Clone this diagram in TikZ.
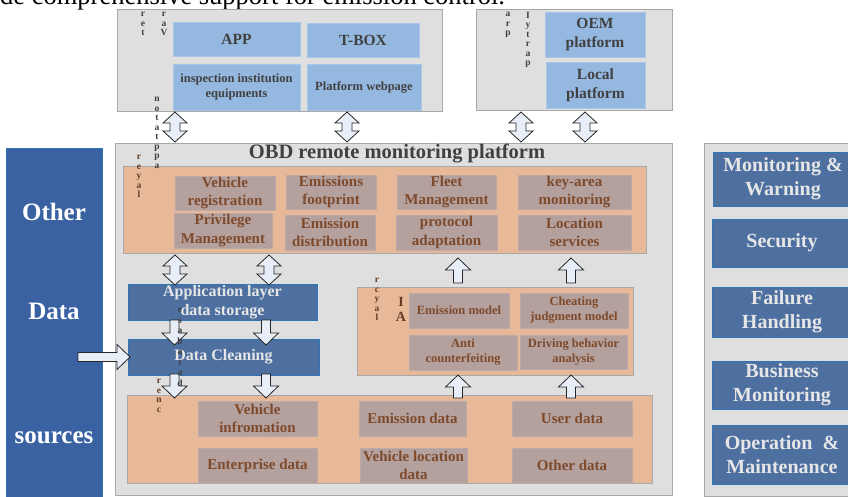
\documentclass[tikz,border=0pt]{standalone}
\usepackage{fontspec}
\setmainfont{Liberation Serif}
\definecolor{bggray}{HTML}{DFDFDF}
\definecolor{bdgray}{HTML}{A8A8A8}
\definecolor{lblue}{HTML}{95B8E0}
\definecolor{dtext}{HTML}{404040}
\definecolor{orng}{HTML}{E8B998}
\definecolor{mauve}{HTML}{B4A09D}
\definecolor{brn}{HTML}{7E4A2C}
\definecolor{dblue}{HTML}{4E70A0}
\definecolor{dbord}{HTML}{2E75B6}
\definecolor{wtext}{HTML}{E6E6E6}
\definecolor{lftblue}{HTML}{3A62A3}
\definecolor{arrfill}{HTML}{E8EEF7}
\newcommand\udarr[3]{\draw[arrstyle] (#1,#2) -- (#1+12,#2+11) -- (#1+5,#2+11) -- (#1+5,#3-11) -- (#1+12,#3-11) -- (#1,#3) -- (#1-12,#3-11) -- (#1-5,#3-11) -- (#1-5,#2+11) -- (#1-12,#2+11) -- cycle;}
\newcommand\uparr[3]{\draw[arrstyle] (#1,#2) -- (#1+12.5,#2+12) -- (#1+4.5,#2+12) -- (#1+4.5,#3) -- (#1-4.5,#3) -- (#1-4.5,#2+12) -- (#1-12.5,#2+12) -- cycle;}
\newcommand\dnarr[3]{\draw[arrstyle] (#1,#3) -- (#1+12.5,#3-12) -- (#1+4.5,#3-12) -- (#1+4.5,#2) -- (#1-4.5,#2) -- (#1-4.5,#3-12) -- (#1-12.5,#3-12) -- cycle;}
\newcommand\rtarr[3]{\draw[arrstyle] (#3,#1) -- (#3-13,#1-12.5) -- (#3-13,#1-4.5) -- (#2,#1-4.5) -- (#2,#1+4.5) -- (#3-13,#1+4.5) -- (#3-13,#1+12.5) -- cycle;}
\begin{document}
\begin{tikzpicture}[x=1pt,y=-1pt,
  gbox/.style={draw=bdgray,fill=bggray,line width=0.9pt,inner sep=0pt},
  lbox/.style={fill=lblue,draw=lblue!80!white,text=dtext,align=center,inner sep=0pt,font=\bfseries\fontsize{15.5}{19}\selectfont},
  obox/.style={fill=orng,draw=bdgray,line width=0.8pt,inner sep=0pt},
  mbox/.style={fill=mauve,draw=mauve!90!white,text=brn,align=center,inner sep=0pt,font=\bfseries\fontsize{15}{18.5}\selectfont},
  sbox/.style={mbox,font=\bfseries\fontsize{12.5}{15}\selectfont},
  dbox/.style={fill=dblue,draw=dbord,line width=0.8pt,text=wtext,align=center,inner sep=0pt,font=\bfseries\fontsize{16}{19}\selectfont},
  rbox/.style={dbox,font=\bfseries\fontsize{20}{24.5}\selectfont},
  arrstyle/.style={draw=black!85,fill=arrfill,line width=0.8pt,line join=miter},
  garble/.style={align=center,inner sep=0pt,text=black!75,font=\bfseries\fontsize{9.5}{9.5}\selectfont},
  garbleb/.style={garble,text=brn!80!black}]
\useasboundingbox (0,0) rectangle (848,497);
% clipped sentence at top
\node[anchor=base west,inner sep=0pt,font=\fontsize{26.5}{30}\selectfont,text=black] (cap) at (0,5) {de comprehensive support for emission control.};
% left column
\node[fill=lftblue,draw=dbord,line width=0.8pt,minimum width=96pt,minimum height=352pt,inner sep=0pt] (left) at (54,324) {};
\node[text=white,font=\bfseries\fontsize{25}{30}\selectfont] (lt1) at (54,212) {Other};
\node[text=white,font=\bfseries\fontsize{25}{30}\selectfont] (lt2) at (54,311) {Data};
\node[text=white,font=\bfseries\fontsize{25}{30}\selectfont] (lt3) at (54,438) {sources};
% top boxes
\node[gbox,minimum width=325pt,minimum height=102pt] (tl) at (279.5,60) {};
\node[lbox,minimum width=127pt,minimum height=34pt] (app) at (236.5,39) {APP};
\node[lbox,minimum width=112pt,minimum height=34pt] (tbox) at (363,40) {T-BOX};
\node[lbox,minimum width=127pt,minimum height=46pt,font=\bfseries\fontsize{12.5}{15}\selectfont] (insp) at (236.5,87) {inspection institution\\equipments};
\node[lbox,minimum width=114pt,minimum height=46pt,font=\bfseries\fontsize{12.5}{15}\selectfont] (web) at (364,87) {Platform webpage};
\node[gbox,minimum width=196pt,minimum height=101pt] (tr) at (574,59.5) {};
\node[lbox,minimum width=100pt,minimum height=45pt] (oem) at (595,34.5) {OEM\\platform};
\node[lbox,minimum width=99pt,minimum height=46pt] (local) at (595.5,85) {Local\\platform};
% main platform
\node[gbox,minimum width=557pt,minimum height=352pt] (main) at (393.5,319) {};
\node[text=dtext,font=\bfseries\fontsize{20.5}{24}\selectfont] (title) at (397,154) {OBD remote monitoring platform};
\node[obox,minimum width=523pt,minimum height=87pt] (svc) at (384.5,209.5) {};
\node[mbox,minimum width=100pt,minimum height=34pt] (vr) at (225,193) {Vehicle\\registration};
\node[mbox,minimum width=90pt,minimum height=34pt] (ef) at (331,192) {Emissions\\footprint};
\node[mbox,minimum width=99pt,minimum height=34pt] (fm) at (446.5,192) {Fleet\\Management};
\node[mbox,minimum width=113pt,minimum height=34pt] (ka) at (574.5,192) {key-area\\monitoring};
\node[mbox,minimum width=98pt,minimum height=35pt] (pm) at (223,230.5) {Privilege\\Management};
\node[mbox,minimum width=90pt,minimum height=35pt] (ed) at (330,232.5) {Emission\\distribution};
\node[mbox,minimum width=101pt,minimum height=35pt] (pa) at (446.5,232.5) {protocol\\adaptation};
\node[mbox,minimum width=113pt,minimum height=35pt] (ls) at (574.5,232.5) {Location\\services};
% application storage and cleaning
\node[dbox,minimum width=189pt,minimum height=36pt] (store) at (222.5,302) {Application layer\\data storage};
\node[dbox,minimum width=191pt,minimum height=36pt] (clean) at (223.5,357) {Data Cleaning};
% AI box
\node[obox,minimum width=276pt,minimum height=88pt] (ai) at (495,331) {};
\node[sbox,minimum width=100pt,minimum height=35pt] (em) at (459,310.5) {Emission model};
\node[sbox,minimum width=108pt,minimum height=35pt] (cj) at (574,310.5) {Cheating\\judgment model};
\node[sbox,minimum width=108pt,minimum height=35pt] (ac) at (463,352.5) {Anti\\counterfeiting};
\node[sbox,minimum width=107pt,minimum height=34pt] (db) at (573.5,352) {Driving behavior\\analysis};
% data layer
\node[obox,minimum width=525pt,minimum height=88pt] (data) at (389.5,439) {};
\node[mbox,minimum width=119pt,minimum height=35pt] (vi) at (257.5,418.5) {Vehicle\\infromation};
\node[mbox,minimum width=107pt,minimum height=35pt] (emd) at (412.5,418.5) {Emission data};
\node[mbox,minimum width=120pt,minimum height=35pt] (ud) at (572,418.5) {User data};
\node[mbox,minimum width=119pt,minimum height=35pt] (ent) at (257.5,465.5) {Enterprise data};
\node[mbox,minimum width=107pt,minimum height=35pt] (vl) at (413.5,465.5) {Vehicle location\\data};
\node[mbox,minimum width=120pt,minimum height=35pt] (od) at (572,465.5) {Other data};
% right column
\node[gbox,minimum width=150pt,minimum height=353pt] (right) at (779,320) {};
\node[rbox,minimum width=140pt,minimum height=54pt] (mw) at (783,179) {Monitoring \&\\Warning};
\node[rbox,minimum width=140pt,minimum height=48pt] (sec) at (782,243) {Security};
\node[rbox,minimum width=140pt,minimum height=50pt] (fh) at (782,312) {Failure\\Handling};
\node[rbox,minimum width=140pt,minimum height=48pt] (bm) at (782,385) {Business\\Monitoring};
\node[rbox,minimum width=140pt,minimum height=59pt] (om) at (782,454.5) {Operation \ \&\\Maintenance};
% block arrows
\udarr{175}{112}{142}
\udarr{347}{112}{142}
\udarr{521}{112}{142}
\udarr{585}{112}{142}
\udarr{175}{255}{285}
\udarr{269}{255}{285}
\uparr{458}{258}{283}
\uparr{571}{258}{283}
\uparr{458}{375}{398}
\uparr{571}{375}{398}
\dnarr{174.5}{320}{345}
\dnarr{266}{320}{345}
\dnarr{174.5}{374}{398}
\dnarr{266}{374}{398}
\rtarr{357}{78}{130}
% stray vertical letters
\node[garble,anchor=north] (g1) at (143,12) {r\\e\\t};
\node[garble,anchor=north] (g2) at (164,12) {r\\a\\V};
\node[garble,anchor=north] (g3) at (157,97) {n\\o\\t\\a\\t\\p\\p\\a};
\node[garbleb,anchor=north] (g4) at (139,155) {r\\e\\y\\a\\l};
\node[garble,anchor=north] (g5) at (508,12) {a\\r\\p};
\node[garble,anchor=north] (g6) at (528,12) {I\\y\\t\\r\\a\\p};
\node[garbleb,anchor=north] (g7) at (377,278) {r\\c\\y\\a\\l};
\node[garbleb,anchor=north,font=\bfseries\fontsize{14}{15}\selectfont] (g8) at (401,297) {I\\A};
\node[garble,anchor=north,font=\bfseries\fontsize{9.5}{10.5}\selectfont] (g9) at (180,308) {e\\s\\a\\b\\a\\t\\a\\d};
\node[garbleb,anchor=north] (g10) at (159,379) {r\\e\\n\\c};
\end{tikzpicture}
\end{document}
